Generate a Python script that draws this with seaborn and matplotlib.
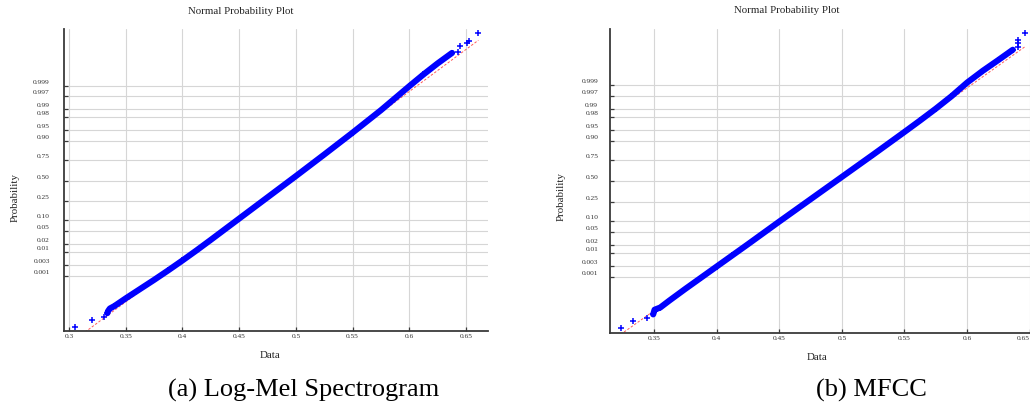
import numpy as np
import pandas as pd
import matplotlib
matplotlib.use("Agg")
import matplotlib.pyplot as plt
import matplotlib.transforms as mtransforms
import seaborn as sns
from statistics import NormalDist

# ---------------- data ----------------
prob_ticks = [0.001, 0.003, 0.01, 0.02, 0.05, 0.10, 0.25, 0.50, 0.75,
              0.90, 0.95, 0.98, 0.99, 0.997, 0.999]
prob_labels = ["0.001", "0.003", "0.01", "0.02", "0.05", "0.10", "0.25", "0.50",
               "0.75", "0.90", "0.95", "0.98", "0.99", "0.997", "0.999"]

lm_xticks = [0.30, 0.35, 0.40, 0.45, 0.50, 0.55, 0.60, 0.65]
lm_xlabels = ["0.3", "0.35", "0.4", "0.45", "0.5", "0.55", "0.6", "0.65"]
mf_xticks = [0.35, 0.40, 0.45, 0.50, 0.55, 0.60, 0.65]
mf_xlabels = ["0.35", "0.4", "0.45", "0.5", "0.55", "0.6", "0.65"]

# Log-Mel: dense part of the sample (data value, normal quantile of plotting position)
lm_dense_value = [0.3338, 0.3345, 0.3360, 0.3400, 0.3500, 0.3625, 0.3750, 0.3875,
                  0.4000, 0.4125, 0.4250, 0.4500, 0.4750, 0.5000, 0.5250, 0.5500,
                  0.5750, 0.5875, 0.6000, 0.6125, 0.6250, 0.6377]
lm_dense_quantile = [-4.30, -4.23, -4.15, -4.07, -3.82, -3.52, -3.22, -2.91,
                     -2.59, -2.26, -1.92, -1.23, -0.54, 0.15, 0.85, 1.56,
                     2.29, 2.68, 3.07, 3.45, 3.81, 4.15]
# Log-Mel: isolated extreme observations
lm_sparse_value = [0.3053, 0.3205, 0.3311, 0.6428, 0.6448, 0.6512, 0.6530, 0.6609]
lm_sparse_quantile = [-4.74, -4.52, -4.42, 4.19, 4.37, 4.46, 4.55, 4.79]
lm_mu, lm_sigma = 0.494, 0.0366          # reference line (quartile fit)

# MFCC
mf_dense_value = [0.3494, 0.3500, 0.3505, 0.3550, 0.3625, 0.3750, 0.3875, 0.4000,
                  0.4125, 0.4250, 0.4500, 0.4750, 0.5000, 0.5250, 0.5500, 0.5625,
                  0.5750, 0.5875, 0.6000, 0.6125, 0.6250, 0.6365]
mf_dense_quantile = [-4.30, -4.22, -4.15, -4.08, -3.85, -3.48, -3.12, -2.76,
                     -2.40, -2.04, -1.31, -0.59, 0.13, 0.85, 1.58, 1.95,
                     2.33, 2.73, 3.17, 3.55, 3.90, 4.23]
mf_sparse_value = [0.3234, 0.3335, 0.3442, 0.6405, 0.6405, 0.6405, 0.6459]
mf_sparse_quantile = [-4.75, -4.52, -4.43, 4.33, 4.44, 4.55, 4.76]
mf_mu, mf_sigma = 0.4956, 0.0348

# ---------------- style ----------------
sns.set_theme(style="white")
plt.rcParams["font.family"] = ["Liberation Serif", "DejaVu Serif"]

BLUE = "#0000ff"
fig = plt.figure(figsize=(10.30, 4.08), dpi=100)

ax_a = fig.add_axes([0.0626, 0.1887, 0.4112, 0.7390])
ax_b = fig.add_axes([0.5922, 0.1846, 0.4136, 0.7444])

nd = NormalDist()
tick_z = [nd.inv_cdf(p) for p in prob_ticks]


def panel(ax, dv, dq, sv, sq, mu, sigma, xticks, xlabels, xlim, ylim, ypad,
          ylab_x, ylab_y, xlab_y):
    allx = np.array(dv + sv)
    xs = np.array([allx.min(), allx.max()])
    ref = pd.DataFrame({"x": xs, "z": (xs - mu) / sigma})
    sns.lineplot(data=ref, x="x", y="z", ax=ax, color="#ff3030", lw=0.7,
                 linestyle=(0, (2.5, 1.8)), alpha=0.8, zorder=2)
    dense = pd.DataFrame({"x": dv, "z": dq})
    sns.lineplot(data=dense, x="x", y="z", ax=ax, sort=False, estimator=None,
                 color=BLUE, lw=4.4, solid_capstyle="round", zorder=3)
    sns.scatterplot(data=dense, x="x", y="z", ax=ax, marker="+", s=22,
                    color=BLUE, linewidth=1.1, zorder=4)
    sparse = pd.DataFrame({"x": sv, "z": sq})
    sns.scatterplot(data=sparse, x="x", y="z", ax=ax, marker="+", s=22,
                    color=BLUE, linewidth=1.1, zorder=4)

    ax.set_xlim(*xlim)
    ax.set_ylim(*ylim)
    ax.set_xticks(xticks)
    ax.set_xticklabels(xlabels)
    ax.set_yticks(tick_z)
    ax.set_yticklabels(prob_labels)
    ax.grid(True, color="#d6d6d6", lw=0.8)
    ax.set_axisbelow(True)
    for s in ("top", "right"):
        ax.spines[s].set_visible(False)
    for s in ("left", "bottom"):
        ax.spines[s].set_color("#3a3a3a")
        ax.spines[s].set_linewidth(1.3)
    ax.tick_params(axis="both", direction="in", length=3, width=0.9,
                   color="#3a3a3a", labelsize=5.3, labelcolor="#333333")
    ax.tick_params(axis="y", pad=ypad)
    ax.tick_params(axis="x", pad=2.5)
    ax.tick_params(axis="both", which="both", left=True, bottom=True)
    off = mtransforms.ScaledTranslation(0, 0.04, fig.dpi_scale_trans)
    for lbl in ax.get_yticklabels():
        lbl.set_transform(lbl.get_transform() + off)
    ax.set_xlabel("Data", fontsize=7.8, color="#222222")
    ax.set_ylabel("Probability", fontsize=7.8, color="#222222")
    ax.yaxis.set_label_coords(ylab_x, ylab_y)
    ax.xaxis.set_label_coords(0.485, xlab_y)


panel(ax_a, lm_dense_value, lm_dense_quantile, lm_sparse_value, lm_sparse_quantile,
      lm_mu, lm_sigma, lm_xticks, lm_xlabels, (0.296, 0.6694), (-4.88, 4.91),
      10.5, -0.107, 0.444, -0.066)
panel(ax_b, mf_dense_value, mf_dense_quantile, mf_sparse_value, mf_sparse_quantile,
      mf_mu, mf_sigma, mf_xticks, mf_xlabels, (0.3149, 0.655), (-4.89, 4.90),
      8.5, -0.103, 0.447, -0.067)
# keep the last MFCC tick label inside the canvas
ax_b.get_xticklabels()[-1].set_horizontalalignment("right")

fig.text(241 / 1030, 1 - 11.5 / 408, "Normal Probability Plot", ha="center",
         va="center", fontsize=7.8, color="#222222")
fig.text(787 / 1030, 1 - 10.5 / 408, "Normal Probability Plot", ha="center",
         va="center", fontsize=7.8, color="#222222")

fig.text(304 / 1030, 1 - 396.5 / 408, "(a) Log-Mel Spectrogram", ha="center",
         va="baseline", fontsize=19, color="black")
fig.text(871 / 1030, 1 - 396.5 / 408, "(b) MFCC", ha="center",
         va="baseline", fontsize=19, color="black")

fig.savefig("out.png", dpi=100)
